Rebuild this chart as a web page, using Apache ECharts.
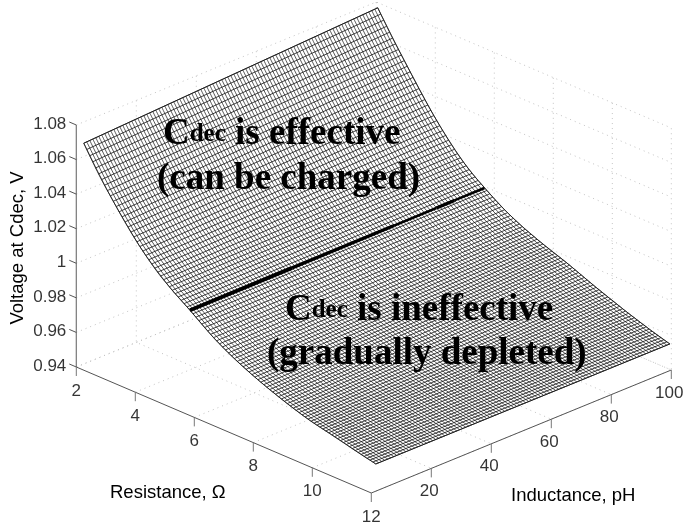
<!DOCTYPE html>
<html>
<head>
<meta charset="utf-8">
<style>html,body{margin:0;background:#fff}#chart{width:684px;height:522px}</style>
<script src="https://cdn.jsdelivr.net/npm/echarts@6/dist/echarts.min.js"></script>
</head>
<body>
<div id="chart"></div>
<script>
// ----- Axis ticks -----
const resistanceTicks = [2, 4, 6, 8, 10, 12];
const inductanceTicks = [20, 40, 60, 80, 100];
const voltageTicks = [0.94, 0.96, 0.98, 1, 1.02, 1.04, 1.06, 1.08];
const voltageLabels = ['0.94', '0.96', '0.98', '1', '1.02', '1.04', '1.06', '1.08'];

// ----- Surface readings, voltages in 0.1 mV -----
// mesh rows of constant resistance, read at the two long edges of the surface
const meshResistance = [
  2.05,2.15,2.25,2.35,2.45,2.55,2.65,2.75,2.85,2.95,3.05,3.15,3.25,3.35,3.45,3.55,3.65,3.75,3.85,3.95,
  4.05,4.15,4.25,4.35,4.45,4.55,4.65,4.75,4.85,4.95,5.05,5.15,5.25,5.35,5.45,5.55,5.65,5.75,5.85,5.95,
  6.05,6.15,6.25,6.35,6.45,6.55,6.65,6.75,6.85,6.95,7.05,7.15,7.25,7.35,7.45,7.55,7.65,7.75,7.85,7.95,
  8.05,8.15,8.25,8.35,8.45,8.55,8.65,8.75,8.85,8.95,9.05,9.15,9.25,9.35,9.45,9.55,9.65,9.75,9.85,9.95,
  10.05,10.15,10.25,10.35,10.45,10.55,10.65,10.75,10.85,10.95,11.05,11.15,11.25,11.35,11.45,11.55,11.65,11.75,11.85,11.95
];
const edgeAtLowInductance = [
  10684,10655,10626,10598,10570,10543,10517,10492,10468,10445,10421,10398,10375,10353,10331,10309,10287,10266,10245,10225,
  10206,10188,10170,10153,10136,10120,10105,10091,10078,10065,10052,10040,10028,10016,10004,9992,9980,9967,9955,9942,
  9930,9917,9905,9892,9880,9869,9859,9848,9838,9828,9819,9810,9801,9793,9785,9777,9769,9761,9754,9746,
  9739,9732,9725,9718,9712,9706,9699,9693,9687,9681,9675,9669,9664,9658,9652,9647,9642,9637,9633,9629,
  9625,9621,9617,9614,9610,9606,9602,9598,9594,9590,9585,9581,9577,9573,9569,9565,9561,9558,9554,9550
];
const edgeAtHighInductance = [
  10770,10741,10713,10685,10658,10631,10605,10580,10555,10530,10505,10480,10455,10430,10405,10381,10356,10332,10308,10285,
  10263,10241,10220,10199,10179,10160,10141,10123,10106,10090,10075,10060,10046,10032,10019,10007,9995,9983,9971,9959,
  9948,9937,9926,9915,9905,9896,9887,9878,9869,9861,9853,9846,9839,9832,9825,9818,9812,9805,9799,9792,
  9786,9780,9774,9768,9762,9755,9748,9741,9734,9727,9720,9713,9706,9699,9692,9686,9679,9673,9666,9660,
  9654,9647,9641,9634,9628,9622,9616,9611,9605,9599,9593,9588,9582,9577,9572,9567,9562,9557,9552,9547
];
const edgeInductance = [2, 100];

// mesh columns of constant inductance, each read at these resistances
const meshInductance = [
  2,3,4,5,6,7,8,9,10,11,12,13,14,15,16,17,18,19,20,21,22,23,24,25,26,27,28,29,30,31,32,33,34,35,36,37,38,39,40,41,42,43,44,45,46,47,48,49,50,51,
  52,53,54,55,56,57,58,59,60,61,62,63,64,65,66,67,68,69,70,71,72,73,74,75,76,77,78,79,80,81,82,83,84,85,86,87,88,89,90,91,92,93,94,95,96,97,98,99,100
];
const columnResistance = [2.05, 2.95, 3.95, 4.95, 5.65, 6.45, 7.45, 8.45, 9.45, 10.45, 11.25, 11.95];
const columnVolts = [
  [10684,10445,10225,10065,9980,9880,9785,9712,9652,9610,9577,9550],
  [10685,10446,10226,10065,9980,9880,9786,9713,9652,9610,9577,9550],
  [10686,10447,10226,10066,9980,9881,9786,9713,9653,9610,9577,9550],
  [10687,10448,10227,10066,9980,9881,9786,9714,9653,9611,9577,9550],
  [10688,10448,10227,10066,9981,9881,9787,9714,9654,9611,9577,9550],
  [10688,10449,10228,10066,9981,9881,9787,9715,9654,9611,9577,9550],
  [10689,10450,10229,10067,9981,9882,9787,9715,9654,9611,9577,9550],
  [10690,10451,10229,10067,9981,9882,9788,9716,9655,9611,9577,9550],
  [10691,10452,10230,10067,9981,9882,9788,9716,9655,9611,9577,9550],
  [10692,10453,10230,10067,9981,9882,9789,9717,9656,9612,9577,9550],
  [10693,10454,10231,10068,9982,9883,9789,9717,9656,9612,9578,9550],
  [10694,10455,10232,10068,9982,9883,9789,9718,9656,9612,9578,9550],
  [10695,10455,10232,10068,9982,9883,9790,9718,9657,9612,9578,9550],
  [10695,10456,10233,10068,9982,9883,9790,9719,9657,9612,9578,9550],
  [10696,10457,10234,10069,9982,9884,9791,9719,9658,9613,9578,9550],
  [10697,10458,10234,10069,9982,9884,9791,9720,9658,9613,9578,9550],
  [10698,10459,10235,10069,9982,9884,9792,9720,9659,9613,9578,9550],
  [10699,10460,10235,10069,9983,9884,9792,9721,9659,9613,9578,9549],
  [10700,10461,10236,10070,9983,9885,9792,9721,9659,9613,9578,9549],
  [10701,10461,10237,10070,9983,9885,9793,9722,9660,9613,9578,9549],
  [10702,10462,10237,10070,9983,9885,9793,9722,9660,9614,9578,9549],
  [10702,10463,10238,10070,9983,9885,9794,9723,9661,9614,9578,9549],
  [10703,10464,10238,10071,9983,9886,9794,9723,9661,9614,9578,9549],
  [10704,10465,10239,10071,9984,9886,9794,9724,9661,9614,9578,9549],
  [10705,10466,10240,10071,9984,9886,9795,9724,9662,9614,9578,9549],
  [10706,10467,10240,10071,9984,9886,9795,9725,9662,9615,9578,9549],
  [10707,10468,10241,10072,9984,9887,9796,9725,9663,9615,9578,9549],
  [10708,10468,10242,10072,9984,9887,9796,9726,9663,9615,9578,9549],
  [10709,10469,10242,10072,9984,9887,9796,9726,9663,9615,9578,9549],
  [10710,10470,10243,10072,9984,9887,9797,9727,9664,9615,9579,9549],
  [10710,10471,10243,10073,9985,9888,9797,9727,9664,9616,9579,9549],
  [10711,10472,10244,10073,9985,9888,9798,9728,9665,9616,9579,9549],
  [10712,10473,10245,10073,9985,9888,9798,9728,9665,9616,9579,9549],
  [10713,10474,10245,10073,9985,9888,9798,9729,9665,9616,9579,9549],
  [10714,10474,10246,10074,9985,9889,9799,9729,9666,9616,9579,9549],
  [10715,10475,10246,10074,9985,9889,9799,9730,9666,9616,9579,9549],
  [10716,10476,10247,10074,9986,9889,9800,9730,9667,9617,9579,9549],
  [10717,10477,10248,10074,9986,9889,9800,9731,9667,9617,9579,9549],
  [10717,10478,10248,10075,9986,9890,9801,9731,9668,9617,9579,9549],
  [10718,10479,10249,10075,9986,9890,9801,9732,9668,9617,9579,9549],
  [10719,10480,10249,10075,9986,9890,9801,9732,9668,9617,9579,9549],
  [10720,10481,10250,10075,9986,9890,9802,9733,9669,9618,9579,9549],
  [10721,10481,10251,10076,9986,9891,9802,9733,9669,9618,9579,9549],
  [10722,10482,10251,10076,9987,9891,9803,9734,9670,9618,9579,9549],
  [10723,10483,10252,10076,9987,9891,9803,9734,9670,9618,9579,9549],
  [10724,10484,10253,10076,9987,9891,9803,9735,9670,9618,9579,9549],
  [10724,10485,10253,10077,9987,9892,9804,9735,9671,9618,9579,9549],
  [10725,10486,10254,10077,9987,9892,9804,9736,9671,9619,9579,9549],
  [10726,10487,10254,10077,9987,9892,9805,9736,9672,9619,9579,9549],
  [10727,10488,10255,10077,9987,9892,9805,9737,9672,9619,9580,9549],
  [10728,10488,10256,10078,9988,9893,9805,9737,9672,9619,9580,9548],
  [10729,10489,10256,10078,9988,9893,9806,9738,9673,9619,9580,9548],
  [10730,10490,10257,10078,9988,9893,9806,9739,9673,9620,9580,9548],
  [10731,10491,10257,10078,9988,9894,9807,9739,9674,9620,9580,9548],
  [10731,10492,10258,10079,9988,9894,9807,9740,9674,9620,9580,9548],
  [10732,10493,10259,10079,9988,9894,9807,9740,9675,9620,9580,9548],
  [10733,10494,10259,10079,9989,9894,9808,9741,9675,9620,9580,9548],
  [10734,10494,10260,10080,9989,9895,9808,9741,9675,9620,9580,9548],
  [10735,10495,10260,10080,9989,9895,9809,9742,9676,9621,9580,9548],
  [10736,10496,10261,10080,9989,9895,9809,9742,9676,9621,9580,9548],
  [10737,10497,10262,10080,9989,9895,9809,9743,9676,9621,9580,9548],
  [10738,10498,10262,10081,9989,9896,9810,9743,9677,9621,9580,9548],
  [10738,10499,10263,10081,9989,9896,9810,9744,9677,9621,9580,9548],
  [10739,10500,10264,10081,9990,9896,9811,9744,9678,9622,9580,9548],
  [10740,10501,10264,10081,9990,9896,9811,9745,9678,9622,9580,9548],
  [10741,10501,10265,10082,9990,9897,9812,9746,9679,9622,9580,9548],
  [10742,10502,10265,10082,9990,9897,9812,9746,9679,9622,9580,9548],
  [10743,10503,10266,10082,9990,9897,9812,9747,9679,9622,9580,9548],
  [10744,10504,10267,10082,9990,9897,9813,9747,9680,9622,9580,9548],
  [10745,10505,10267,10083,9991,9898,9813,9748,9680,9623,9581,9548],
  [10745,10506,10268,10083,9991,9898,9814,9748,9681,9623,9581,9548],
  [10746,10507,10268,10083,9991,9898,9814,9749,9681,9623,9581,9548],
  [10747,10507,10269,10083,9991,9898,9814,9749,9681,9623,9581,9548],
  [10748,10508,10270,10084,9991,9899,9815,9750,9682,9623,9581,9548],
  [10749,10509,10270,10084,9991,9899,9815,9750,9682,9624,9581,9548],
  [10750,10510,10271,10084,9991,9899,9816,9751,9683,9624,9581,9548],
  [10751,10511,10272,10084,9992,9899,9816,9751,9683,9624,9581,9548],
  [10752,10512,10272,10085,9992,9900,9816,9752,9683,9624,9581,9548],
  [10752,10513,10273,10085,9992,9900,9817,9752,9684,9624,9581,9548],
  [10753,10514,10273,10085,9992,9900,9817,9753,9684,9624,9581,9548],
  [10754,10514,10274,10085,9992,9900,9818,9753,9685,9625,9581,9548],
  [10755,10515,10275,10086,9992,9901,9818,9754,9685,9625,9581,9548],
  [10756,10516,10275,10086,9993,9901,9818,9754,9685,9625,9581,9548],
  [10757,10517,10276,10086,9993,9901,9819,9755,9686,9625,9581,9547],
  [10758,10518,10276,10086,9993,9901,9819,9755,9686,9625,9581,9547],
  [10759,10519,10277,10087,9993,9902,9820,9756,9687,9626,9581,9547],
  [10759,10520,10278,10087,9993,9902,9820,9756,9687,9626,9581,9547],
  [10760,10520,10278,10087,9993,9902,9821,9757,9688,9626,9581,9547],
  [10761,10521,10279,10087,9993,9902,9821,9757,9688,9626,9581,9547],
  [10762,10522,10279,10088,9994,9903,9821,9758,9688,9626,9582,9547],
  [10763,10523,10280,10088,9994,9903,9822,9758,9689,9627,9582,9547],
  [10764,10524,10281,10088,9994,9903,9822,9759,9689,9627,9582,9547],
  [10765,10525,10281,10088,9994,9903,9823,9759,9690,9627,9582,9547],
  [10766,10526,10282,10089,9994,9904,9823,9760,9690,9627,9582,9547],
  [10766,10527,10283,10089,9994,9904,9823,9760,9690,9627,9582,9547],
  [10767,10527,10283,10089,9994,9904,9824,9761,9691,9627,9582,9547],
  [10768,10528,10284,10089,9995,9904,9824,9761,9691,9628,9582,9547],
  [10769,10529,10284,10090,9995,9905,9825,9762,9692,9628,9582,9547],
  [10770,10530,10285,10090,9995,9905,9825,9762,9692,9628,9582,9547]
];

// thick line where Cdec stops being effective, it gets thinner towards high inductance
const boundaryInductance = [2, 36, 70, 84, 90, 100];
const boundaryResistance = [5.65, 5.655, 5.66, 5.665, 5.665, 5.67];
const boundaryVolts = [9980, 9984, 9987, 9989, 9990, 9991];
const boundaryWeight = [4, 3.4, 2.5, 3.4, 2.3];

// ----- Fixed 3D view -----
function project(r, l, v) {
  return [
    76.3 + 29.5 * (r - 2) + 3.0 * l,
    367 + 12.6 * (r - 2) - 1.23 * l - (v - 0.94) * 1728.6
  ];
}
const toVolts = (n) => n / 10000;

// ----- Series helpers -----
function pathSeries(points, color, width, type, z, smooth) {
  return {
    type: 'line',
    data: points,
    showSymbol: false,
    silent: true,
    clip: false,
    smooth: smooth || false,
    lineStyle: { color, width, type: type || 'solid', cap: 'butt', join: 'round' },
    z
  };
}

function labelSeries(points, texts, offsetX, offsetY, align) {
  return {
    type: 'scatter',
    data: points.map((p, i) => ({ value: p, name: texts[i] })),
    symbolSize: 0,
    silent: true,
    clip: false,
    z: 6,
    label: {
      show: true,
      position: [offsetX, offsetY],
      formatter: (d) => d.name,
      align,
      verticalAlign: 'middle',
      color: '#000',
      fontFamily: 'Liberation Sans',
      fontSize: 17
    }
  };
}

const series = [];
const rMin = resistanceTicks[0], rMax = resistanceTicks[resistanceTicks.length - 1];
const lMax = inductanceTicks[inductanceTicks.length - 1];
const vMin = voltageTicks[0], vMax = voltageTicks[voltageTicks.length - 1];
const gridStyle = ['#c4c4c4', 1, [1, 4], 1];

// back walls and floor
for (const v of voltageTicks) {
  series.push(pathSeries([project(rMin, 0, v), project(rMin, lMax, v), project(rMax, lMax, v)], ...gridStyle));
}
for (const l of inductanceTicks) {
  series.push(pathSeries([project(rMin, l, vMax), project(rMin, l, vMin), project(rMax, l, vMin)], ...gridStyle));
}
for (const r of resistanceTicks) {
  series.push(pathSeries([project(r, 0, vMin), project(r, lMax, vMin), project(r, lMax, vMax)], ...gridStyle));
}

// surface: white sheet under the mesh so the walls do not show through
const lowEdge = meshResistance.map((r, i) => project(r, edgeInductance[0], toVolts(edgeAtLowInductance[i])));
const highEdge = meshResistance.map((r, i) => project(r, edgeInductance[1], toVolts(edgeAtHighInductance[i])));
series.push({
  type: 'custom',
  coordinateSystem: 'cartesian2d',
  data: [0],
  silent: true,
  clip: false,
  z: 2,
  renderItem: (params, api) => ({
    type: 'polygon',
    shape: { points: lowEdge.concat(highEdge.slice().reverse()).map((p) => api.coord(p)) },
    style: { fill: '#fff', stroke: '#222', lineWidth: 0.8 }
  })
});
meshResistance.forEach((r, i) => {
  series.push(pathSeries([lowEdge[i], highEdge[i]], '#111', 0.8, 'solid', 3));
});
meshInductance.forEach((l, j) => {
  const pts = columnResistance.map((r, k) => project(r, l, toVolts(columnVolts[j][k])));
  series.push(pathSeries(pts, '#111', 0.7, 'solid', 3, 0.35));
});

// boundary line
const boundary = boundaryInductance.map((l, i) => project(boundaryResistance[i], l, toVolts(boundaryVolts[i])));
boundaryWeight.forEach((w, i) => {
  series.push(pathSeries([boundary[i], boundary[i + 1]], '#000', w, 'solid', 4));
});

// axes
const axisColor = '#555';
series.push(pathSeries([project(rMin, 0, vMax), project(rMin, 0, vMin)], '#777', 1.2, 'solid', 5));
series.push(pathSeries([project(rMin, 0, vMin), project(rMax, 0, vMin), project(rMax, lMax, vMin)], axisColor, 1, 'solid', 5));
for (const v of voltageTicks) {
  const p = project(rMin, 0, v);
  series.push(pathSeries([p, [p[0] - 7, p[1] - 3]], axisColor, 1, 'solid', 5));
}
for (const r of resistanceTicks) {
  const p = project(r, 0, vMin);
  series.push(pathSeries([p, [p[0], p[1] + 9]], '#777', 1, 'solid', 5));
}
for (const l of inductanceTicks) {
  const p = project(rMax, l, vMin);
  series.push(pathSeries([p, [p[0], p[1] + 9]], '#777', 1, 'solid', 5));
}

// tick labels
series.push(labelSeries(voltageTicks.map((v) => project(rMin, 0, v)), voltageLabels, -10, -1, 'right'));
series.push(labelSeries(resistanceTicks.map((r) => project(r, 0, vMin)), resistanceTicks.map(String), 0, 24, 'center'));
series.push(labelSeries(inductanceTicks.map((l) => project(rMax, l, vMin)), inductanceTicks.map(String), -2, 23, 'center'));

// ----- Titles and annotations -----
const axisFont = { fontFamily: 'Liberation Sans', fontSize: 18.5, fill: '#000' };
const noteRich = {
  big: { fontFamily: 'Liberation Serif', fontWeight: 'bold', fontSize: 37, fill: '#000' },
  small: { fontFamily: 'Liberation Serif', fontWeight: 'bold', fontSize: 25, fill: '#000' }
};
function note(left, baseline, text) {
  return {
    type: 'text', left, top: baseline - 27, z: 10, silent: true,
    style: { text, rich: noteRich }
  };
}

const chart = echarts.init(document.getElementById('chart'), null, { renderer: 'canvas' });
chart.setOption({
  backgroundColor: '#fff',
  animation: false,
  grid: { left: 0, right: 0, top: 0, bottom: 0 },
  xAxis: { type: 'value', min: 0, max: 684, show: false },
  yAxis: { type: 'value', min: 0, max: 522, inverse: true, show: false },
  legend: { show: false },
  tooltip: { show: false },
  series,
  graphic: [
    { type: 'text', left: 110, top: 483, z: 10, style: { text: 'Resistance, Ω', ...axisFont } },
    { type: 'text', left: 511, top: 486, z: 10, style: { text: 'Inductance, pH', ...axisFont } },
    { type: 'text', x: 18, y: 248, rotation: Math.PI / 2, z: 10,
      style: { text: 'Voltage at Cdec, V', align: 'center', verticalAlign: 'middle', ...axisFont } },
    note(163, 143, '{big|C}{small|dec}{big| is effective}'),
    note(157, 188, '{big|(can be charged)}'),
    note(285, 319, '{big|C}{small|dec}{big| is ineffective}'),
    note(267, 363, '{big|(gradually depleted)}')
  ]
});
</script>
</body>
</html>
